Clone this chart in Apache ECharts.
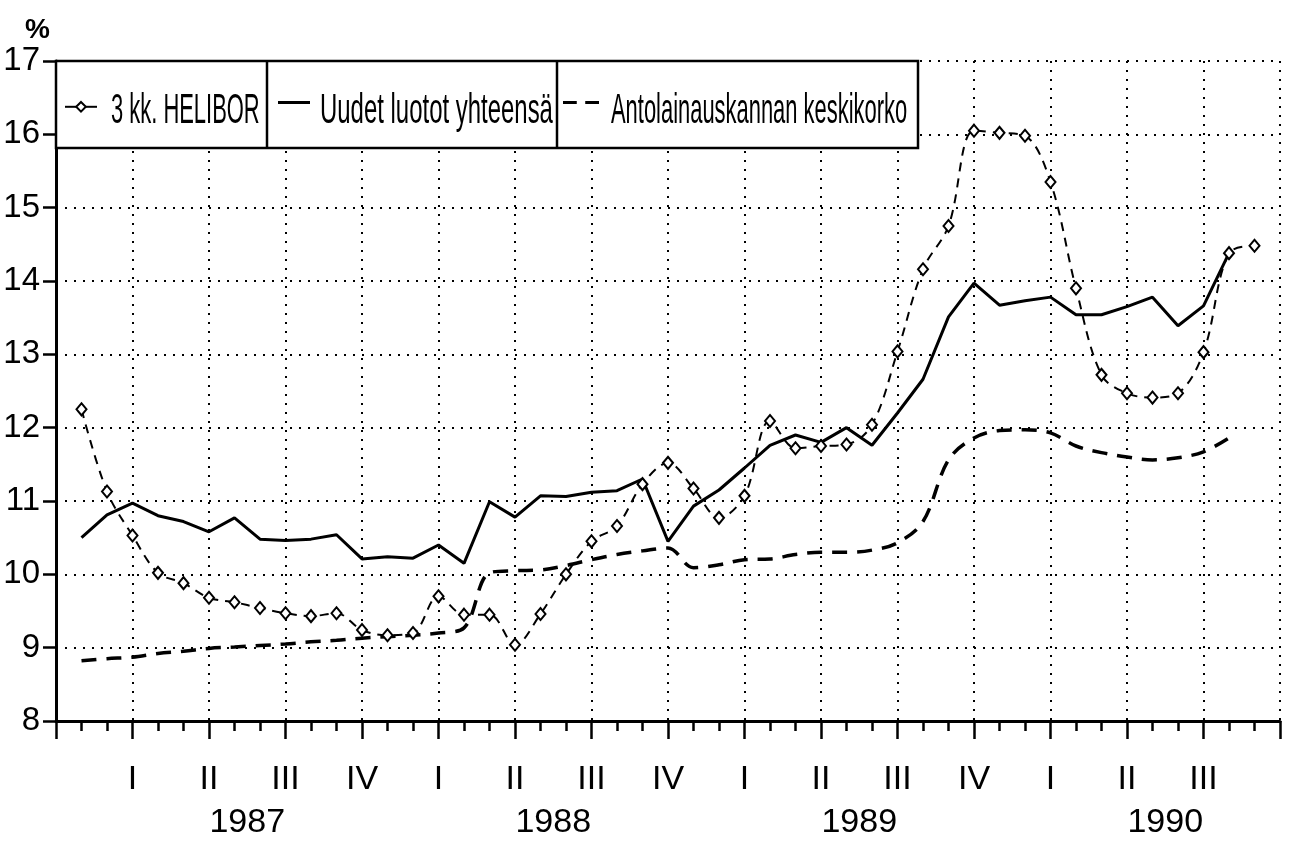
<!DOCTYPE html>
<html>
<head>
<meta charset="utf-8">
<script src="https://cdn.jsdelivr.net/npm/echarts@6/dist/echarts.min.js"></script>
<style>
  html, body { margin: 0; padding: 0; background: #fff; }
  #chart { width: 1290px; height: 841px; }
</style>
</head>
<body>
<div id="chart"></div>
<script>
const FONT = '"Liberation Sans", Arial, sans-serif';

// monthly values, Jan 1987 .. Nov 1990 (x position = month number from Dec 1986)
const helibor = [12.25, 11.13, 10.53, 10.02, 9.88, 9.68, 9.62, 9.54, 9.47, 9.43, 9.47, 9.24,
  9.17, 9.2, 9.7, 9.45, 9.45, 9.04, 9.46, 10.0, 10.45, 10.66, 11.23, 11.52,
  11.17, 10.77, 11.07, 12.09, 11.72, 11.75, 11.77, 12.04, 13.04, 14.16, 14.75, 16.05,
  16.02, 15.98, 15.35, 13.9, 12.72, 12.47, 12.41, 12.47, 13.03, 14.38, 14.48];
const uudet = [10.5, 10.81, 10.97, 10.8, 10.72, 10.58, 10.77, 10.48, 10.46, 10.48, 10.54, 10.21,
  10.24, 10.22, 10.4, 10.15, 10.99, 10.78, 11.07, 11.06, 11.12, 11.14, 11.3, 10.45,
  10.93, 11.15, 11.45, 11.76, 11.9, 11.8, 12.0, 11.76, 12.2, 12.66, 13.51, 13.97,
  13.67, 13.73, 13.78, 13.54, 13.54, 13.65, 13.78, 13.39, 13.66, 14.38, null];
const antolainaus = [8.82, 8.85, 8.87, 8.92, 8.95, 8.99, 9.01, 9.03, 9.05, 9.08, 9.1, 9.13,
  9.15, 9.17, 9.2, 9.27, 10.02, 10.05, 10.06, 10.12, 10.2, 10.27, 10.32, 10.36,
  10.09, 10.13, 10.2, 10.21, 10.27, 10.3, 10.3, 10.33, 10.43, 10.72, 11.56, 11.86,
  11.96, 11.97, 11.93, 11.75, 11.66, 11.6, 11.56, 11.59, 11.67, 11.86, null];

const seriesNames = ['3 kk. HELIBOR', 'Uudet luotot yhteensä', 'Antolainauskannan keskikorko'];
const quarterLabels = ['', 'I', 'II', 'III', 'IV', 'I', 'II', 'III', 'IV',
  'I', 'II', 'III', 'IV', 'I', 'II', 'III', ''];
const years = ['1987', '1988', '1989', '1990'];
const yearPos = [7.5, 19.5, 31.5, 43.5];

const toPoints = arr => arr.map((v, i) => [i + 1, v]);

const chart = echarts.init(document.getElementById('chart'));

// legend draws only the keys; the tall condensed names are graphic texts
const legendBase = {
  top: 101,
  padding: 0,
  itemGap: 0,
  selectedMode: false,
  formatter: () => '',
  textStyle: { fontSize: 12, lineHeight: 12 },
  z: 20
};

// the plotter font is tall and narrow: squeeze a normal font horizontally
const legendText = (text, x, sx) => ({
  type: 'text', z: 21, x: x, y: 111, scaleX: sx,
  style: { text: text, fontFamily: FONT, fontSize: 42, fill: '#000', verticalAlign: 'middle', align: 'left' }
});

const dotted = { color: '#000', width: 2, type: [2, 7] };
const tickStyle = { color: '#000', width: 2.5 };

chart.setOption({
  animation: false,
  backgroundColor: '#fff',
  grid: { left: 56, right: 10, top: 61, bottom: 120 },
  xAxis: [
    {
      type: 'value', min: 0, max: 48, interval: 3,
      axisLine: { lineStyle: { color: '#000', width: 3 } },
      axisTick: { length: 18, lineStyle: tickStyle },
      minorTick: { show: true, splitNumber: 3, length: 10, lineStyle: tickStyle },
      splitLine: { show: true, lineStyle: dotted },
      axisLabel: {
        margin: 42, fontFamily: FONT, fontSize: 34, color: '#000',
        formatter: v => quarterLabels[Math.round(v / 3)] || ''
      }
    },
    {
      type: 'value', min: 0, max: 48, position: 'bottom',
      axisLine: { show: false }, axisTick: { show: false }, splitLine: { show: false },
      axisLabel: {
        margin: 85, fontFamily: FONT, fontSize: 34, color: '#000',
        customValues: yearPos,
        formatter: v => years[yearPos.indexOf(v)] || ''
      }
    }
  ],
  yAxis: {
    type: 'value', min: 8, max: 17, interval: 1,
    name: '%', nameLocation: 'end', nameGap: 14,
    nameTextStyle: { fontFamily: FONT, fontSize: 28, fontWeight: 'bold', color: '#000', align: 'right', padding: [0, 6, 0, 0] },
    axisLine: { show: true, lineStyle: { color: '#000', width: 3 } },
    axisTick: { show: true, length: 13, lineStyle: tickStyle },
    splitLine: { show: true, lineStyle: dotted },
    axisLabel: { margin: 16, fontFamily: FONT, fontSize: 33, color: '#000' }
  },
  legend: [
    Object.assign({}, legendBase, {
      left: 64, itemWidth: 32, itemHeight: 12,
      lineStyle: { type: 'solid', width: 2 },
      data: [seriesNames[0]]
    }),
    Object.assign({}, legendBase, {
      left: 278, itemWidth: 32, itemHeight: 3,
      data: [{ name: seriesNames[1], icon: 'rect' }]
    }),
    Object.assign({}, legendBase, {
      left: 563, itemWidth: 36, itemHeight: 3, symbolKeepAspect: false,
      data: [{ name: seriesNames[2], icon: 'path://M0,0h13v3h-13z M21,0h13v3h-13z' }]
    })
  ],
  graphic: [
    { type: 'rect', z: 10, shape: { x: 56, y: 61, width: 862, height: 87 },
      style: { fill: '#fff', stroke: '#000', lineWidth: 2.5 } },
    { type: 'line', z: 11, shape: { x1: 267, y1: 61, x2: 267, y2: 148 },
      style: { stroke: '#000', lineWidth: 2.5 } },
    { type: 'line', z: 11, shape: { x1: 557, y1: 61, x2: 557, y2: 148 },
      style: { stroke: '#000', lineWidth: 2.5 } },
    legendText(seriesNames[0], 111, 0.522),
    legendText(seriesNames[1], 320, 0.57),
    legendText(seriesNames[2], 611, 0.522)
  ],
  series: [
    {
      name: seriesNames[0], type: 'line', smooth: 0.35,
      data: toPoints(helibor),
      symbol: 'diamond', symbolSize: [10, 12],
      itemStyle: { color: '#fff', borderColor: '#000', borderWidth: 2 },
      lineStyle: { color: '#000', width: 2, type: [9, 7] },
      z: 4
    },
    {
      name: seriesNames[1], type: 'line',
      data: toPoints(uudet),
      symbol: 'none',
      itemStyle: { color: '#000' },
      lineStyle: { color: '#000', width: 3 },
      z: 3
    },
    {
      name: seriesNames[2], type: 'line', smooth: 0.35,
      data: toPoints(antolainaus),
      symbol: 'none',
      itemStyle: { color: '#000' },
      lineStyle: { color: '#000', width: 3.5, type: [15, 10] },
      z: 3
    }
  ]
});

window.addEventListener('resize', () => chart.resize());
</script>
</body>
</html>
